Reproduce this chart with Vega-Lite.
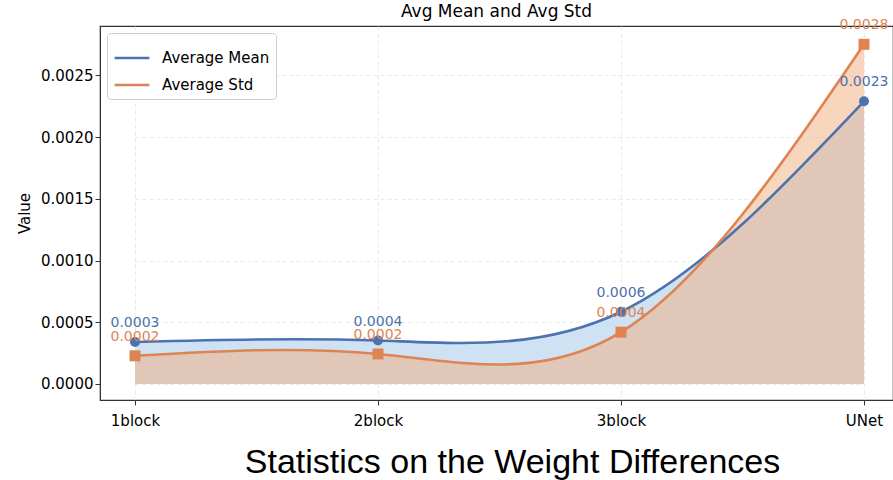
{
  "$schema": "https://vega.github.io/schema/vega-lite/v6.json",
  "autosize": {"type": "none"},
  "padding": {"left": 100, "top": 26, "right": 0, "bottom": 80},
  "width": 793,
  "height": 374,
  "background": "white",
  "title": {"text": "Avg Mean and Avg Std", "font": "DejaVu Sans", "fontSize": 17, "fontWeight": "normal", "color": "black", "offset": -3},
  "config": {
    "font": "DejaVu Sans",
    "view": {"stroke": "#333333", "strokeWidth": 1.2},
    "axis": {"labelFont": "DejaVu Sans", "titleFont": "DejaVu Sans", "labelColor": "black", "titleColor": "black", "domainColor": "#333333", "tickColor": "#333333", "tickSize": 5, "gridColor": "#e3e3e3", "gridDash": [4, 3], "gridOpacity": 0.8}
  },
  "data": {"values": [
    {"block": "1block", "series": "Average Mean", "value": 0.00034, "label": "0.0003"},
    {"block": "2block", "series": "Average Mean", "value": 0.000352, "label": "0.0004"},
    {"block": "3block", "series": "Average Mean", "value": 0.000585, "label": "0.0006"},
    {"block": "UNet", "series": "Average Mean", "value": 0.00229, "label": "0.0023"},
    {"block": "1block", "series": "Average Std", "value": 0.000228, "label": "0.0002"},
    {"block": "2block", "series": "Average Std", "value": 0.000243, "label": "0.0002"},
    {"block": "3block", "series": "Average Std", "value": 0.00042, "label": "0.0004"},
    {"block": "UNet", "series": "Average Std", "value": 0.002752, "label": "0.0028"}
  ]},
  "encoding": {
    "x": {"field": "block", "type": "ordinal", "sort": ["1block", "2block", "3block", "UNet"],
      "scale": {"type": "point", "range": [35, 764], "padding": 0},
      "axis": {"title": "Statistics on the Weight Differences", "titleFont": "Liberation Sans", "titleFontSize": 34, "titleFontWeight": "normal", "titlePadding": 17, "titleX": 412, "labelFontSize": 15, "labelAngle": 0, "labelPadding": 8, "grid": true}},
    "y": {"field": "value", "type": "quantitative",
      "scale": {"domain": [-0.00013, 0.0029], "nice": false, "zero": false},
      "axis": {"title": "Value", "titleFontSize": 15, "titleFontWeight": "normal", "labelFontSize": 15, "format": ".4f", "values": [0, 0.0005, 0.001, 0.0015, 0.002, 0.0025], "grid": true, "titlePadding": 8}}
  },
  "layer": [
    {"transform": [{"filter": "datum.series === 'Average Mean'"}],
     "mark": {"type": "area", "interpolate": "natural", "color": "#cfe2f3", "opacity": 1},
     "encoding": {"y2": {"datum": 0}}},
    {"transform": [{"filter": "datum.series === 'Average Std'"}],
     "mark": {"type": "area", "interpolate": "natural", "color": "#f1ab7b", "opacity": 0.5},
     "encoding": {"y2": {"datum": 0}}},
    {"mark": {"type": "line", "interpolate": "natural", "strokeWidth": 2.6},
     "encoding": {"color": {"field": "series", "type": "nominal",
       "scale": {"domain": ["Average Mean", "Average Std"], "range": ["#4c72b0", "#dd8452"]},
       "legend": {"title": null, "orient": "top-left", "offset": 7, "symbolType": "stroke", "symbolStrokeWidth": 2.6, "symbolSize": 1200, "labelFontSize": 15, "labelFont": "DejaVu Sans", "labelColor": "black", "labelOffset": 11, "rowPadding": -10, "padding": 6, "strokeColor": "#cccccc", "fillColor": "white", "cornerRadius": 4}}}},
    {"transform": [{"filter": "datum.series === 'Average Mean'"}],
     "mark": {"type": "point", "shape": "circle", "filled": true, "size": 100, "color": "#4c72b0", "opacity": 1}},
    {"transform": [{"filter": "datum.series === 'Average Std'"}],
     "mark": {"type": "point", "shape": "square", "filled": true, "size": 120, "color": "#dd8452", "opacity": 1}},
    {"mark": {"type": "text", "dy": -19, "baseline": "middle", "align": "center", "fontSize": 14, "font": "DejaVu Sans"},
     "encoding": {"text": {"field": "label"},
       "color": {"field": "series", "type": "nominal", "legend": null}}}
  ]
}
